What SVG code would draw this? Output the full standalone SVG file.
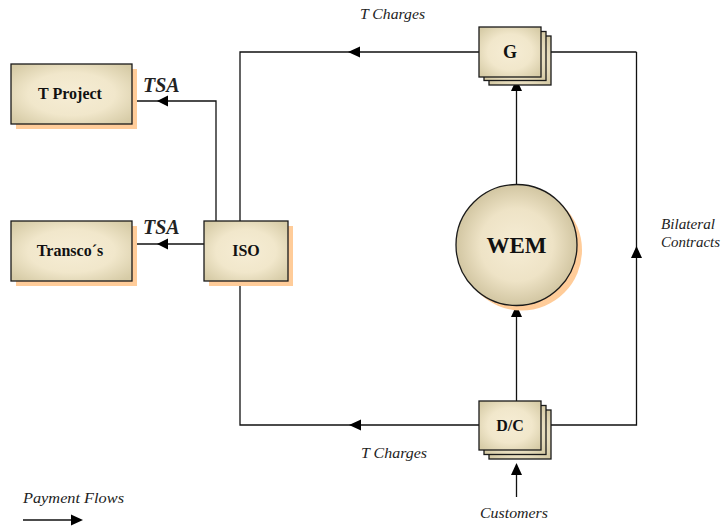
<svg xmlns="http://www.w3.org/2000/svg" width="724" height="527" viewBox="0 0 724 527" font-family="Liberation Serif, Times New Roman, Tinos, DejaVu Serif, serif">
<style>
.box{stroke:#1a1a1a;stroke-width:1.3}
.shadow{fill:#FFCC99}
.lbl{font-weight:bold;fill:#111;text-anchor:middle}
.it{font-style:italic;fill:#222}
.conn{fill:none;stroke:#111;stroke-width:1.3}
.ah{fill:#000}
</style>
<defs>
<radialGradient id="gr" cx="50%" cy="50%" r="65%">
<stop offset="0" stop-color="#F6EDD5"/>
<stop offset="0.55" stop-color="#F1E7CB"/>
<stop offset="1" stop-color="#D6CBA6"/>
</radialGradient>
<radialGradient id="gc" cx="50%" cy="50%" r="50%">
<stop offset="0" stop-color="#F6EDD5"/>
<stop offset="0.6" stop-color="#EEE3C6"/>
<stop offset="1" stop-color="#D2C6A2"/>
</radialGradient>
</defs>
<rect width="724" height="527" fill="#fff"/>

<g id="connectors">
<polyline class="conn" points="216,221 216,101 132,101"/>
<polygon class="ah" points="157,101 168,95.5 168,106.5"/>
<line class="conn" x1="204" y1="244" x2="132" y2="244"/>
<polygon class="ah" points="157,244 168,238.5 168,249.5"/>
<polyline class="conn" points="240,221 240,52 480,52"/>
<polygon class="ah" points="348,52 360,46.5 360,57.5"/>
<line class="conn" x1="541" y1="52" x2="636.5" y2="52"/>
<polyline class="conn" points="240,281 240,425 480,425"/>
<polygon class="ah" points="349,425 361,419.5 361,430.5"/>
<polyline class="conn" points="541,425 636.5,425 636.5,52"/>
<polygon class="ah" points="636.5,246 631,258 642,258"/>
<line class="conn" x1="516.5" y1="185" x2="516.5" y2="84"/>
<polygon class="ah" points="516.5,79 511,91 522,91"/>
<line class="conn" x1="516.5" y1="401" x2="516.5" y2="305"/>
<polygon class="ah" points="516.5,305 511,317 522,317"/>
<line class="conn" x1="516.5" y1="497" x2="516.5" y2="470"/>
<polygon class="ah" points="516.5,463 511,475 522,475"/>
<line class="conn" x1="23" y1="520" x2="72" y2="520"/>
<polygon class="ah" points="83,520 71,514.5 71,525.5"/>
</g>

<g id="tproject">
<rect class="shadow" x="16" y="69" width="121" height="60"/>
<rect class="box" x="11" y="64" width="121" height="60" fill="url(#gr)"/>
<text class="lbl" x="70" y="99" font-size="16">T Project</text>
</g>

<g id="transcos">
<rect class="shadow" x="16" y="226" width="121" height="60"/>
<rect class="box" x="11" y="221" width="121" height="60" fill="url(#gr)"/>
<text class="lbl" x="70" y="256" font-size="16">Transco´s</text>
</g>

<g id="iso">
<rect class="shadow" x="209" y="226" width="84" height="60"/>
<rect class="box" x="204" y="221" width="84" height="60" fill="url(#gr)"/>
<text class="lbl" x="246" y="256" font-size="16">ISO</text>
</g>

<g id="g">
<rect class="box" x="489" y="36" width="62" height="49" fill="url(#gr)"/>
<rect class="box" x="484" y="31.5" width="62" height="49" fill="url(#gr)"/>
<rect class="box" x="479" y="27" width="62" height="50" fill="url(#gr)"/>
<text class="lbl" x="510" y="58" font-size="18">G</text>
</g>

<g id="dc">
<rect class="box" x="489" y="410" width="62" height="49" fill="url(#gr)"/>
<rect class="box" x="484" y="405.5" width="62" height="49" fill="url(#gr)"/>
<rect class="box" x="479" y="401" width="62" height="49" fill="url(#gr)"/>
<text class="lbl" x="510" y="431" font-size="16">D/C</text>
</g>

<g id="wem">
<circle class="shadow" cx="521.5" cy="250" r="60.5"/>
<circle class="box" cx="516.5" cy="245" r="60.5" fill="url(#gc)"/>
<text class="lbl" x="516.5" y="253" font-size="23">WEM</text>
</g>

<g id="labels">
<text class="it" x="143" y="92" font-size="20" font-weight="bold" fill="#111">TSA</text>
<text class="it" x="143" y="234" font-size="20" font-weight="bold" fill="#111">TSA</text>
<text class="it" x="360" y="19" font-size="14" textLength="65" lengthAdjust="spacingAndGlyphs">T Charges</text>
<text class="it" x="361" y="458" font-size="14" textLength="66" lengthAdjust="spacingAndGlyphs">T Charges</text>
<text class="it" x="661" y="229" font-size="14" textLength="54" lengthAdjust="spacingAndGlyphs">Bilateral</text>
<text class="it" x="661" y="247" font-size="14" textLength="59" lengthAdjust="spacingAndGlyphs">Contracts</text>
<text class="it" x="480" y="518" font-size="14" textLength="68" lengthAdjust="spacingAndGlyphs">Customers</text>
<text class="it" x="23" y="503" font-size="14" textLength="101" lengthAdjust="spacingAndGlyphs">Payment  Flows</text>
</g>
</svg>
